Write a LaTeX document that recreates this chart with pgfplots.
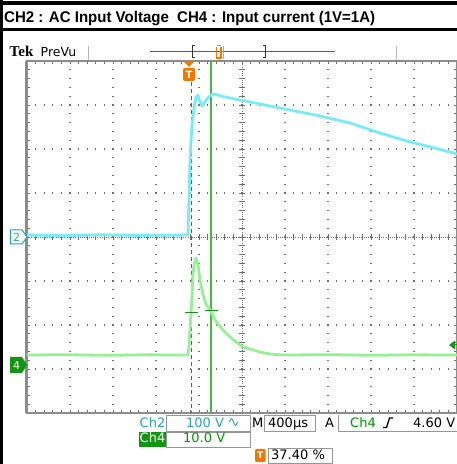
\documentclass[border=0pt]{standalone}
\usepackage{pgfplots}
\pgfplotsset{compat=1.18}
\usepackage{fontspec}
\setmainfont{DejaVu Sans}
\newfontfamily\lib{Liberation Sans}
\newfontfamily\tekserif{Liberation Serif}
\definecolor{cyantrace}{RGB}{120,236,246}
\definecolor{greentrace}{RGB}{150,240,150}
\definecolor{chtwo}{RGB}{40,165,180}
\definecolor{chfour}{RGB}{0,150,0}
\definecolor{chfourbg}{RGB}{16,150,16}
\definecolor{curgreen}{RGB}{70,180,70}
\definecolor{tekorange}{RGB}{240,120,0}
\definecolor{gratgray}{RGB}{110,110,110}
\definecolor{framegray}{RGB}{140,140,140}
\definecolor{boxgray}{RGB}{150,150,150}

\pgfplotstableread{
x y
0.000 4.045
0.800 4.030
1.698 4.050
2.600 4.035
3.744 4.045
3.767 4.841
3.791 5.750
3.814 6.205
3.837 6.545
3.884 6.932
3.930 7.182
3.977 7.227
4.023 7.068
4.070 6.977
4.116 7.045
4.186 7.136
4.256 7.205
4.326 7.250
4.442 7.227
4.605 7.182
4.837 7.136
5.070 7.091
5.419 7.023
5.884 6.932
6.349 6.841
6.814 6.750
7.512 6.591
8.209 6.364
8.907 6.159
9.488 6.023
10.000 5.886
}\chtwodata

\pgfplotstableread{
x y
0.000 1.318
0.900 1.325
1.800 1.310
2.700 1.322
3.744 1.318
3.767 1.545
3.791 1.886
3.814 2.295
3.837 2.636
3.860 3.136
3.884 3.364
3.930 3.523
3.977 3.364
4.023 3.023
4.093 2.682
4.163 2.477
4.256 2.341
4.326 2.205
4.419 2.045
4.558 1.886
4.721 1.727
4.860 1.614
5.023 1.500
5.186 1.455
5.419 1.386
5.651 1.341
5.953 1.318
7.000 1.325
8.000 1.312
9.000 1.322
10.000 1.318
}\chfourdata

\begin{document}
\begin{tikzpicture}
\fill[white] (0,0) rectangle (457pt,464pt);
\useasboundingbox (0,0) rectangle (457pt,464pt);

% graticule
\begin{scope}[shift={(27pt,51pt)},x=43pt,y=44pt]
  \foreach \i in {1,2,3,4,6,7,8,9}
    \draw[gratgray, line width=1.1pt, dash pattern=on 1.1pt off 7.7pt, dash phase=0.55pt] (\i,0)--(\i,8);
  \foreach \j in {1,2,3,5,6,7}
    \draw[gratgray, line width=1.1pt, dash pattern=on 1.1pt off 7.5pt, dash phase=0.55pt] (0,\j)--(10,\j);
  \draw[gratgray, line width=0.9pt, dash pattern=on 1pt off 1.2pt] (5,0)--(5,8);
  \draw[gratgray, line width=0.9pt, dash pattern=on 1pt off 1.2pt] (0,4)--(10,4);
  \foreach \k in {1,...,39}
    \draw[gratgray, line width=0.8pt] ([xshift=-3pt]5,\k/5)--([xshift=3pt]5,\k/5);
  \foreach \k in {1,...,49}
    \draw[gratgray, line width=0.8pt] ([yshift=-3pt]\k/5,4)--([yshift=3pt]\k/5,4);
  \foreach \k in {1,...,49} {
    \draw[gratgray, line width=0.8pt] (\k/5,0)--++(0,3pt);
    \draw[gratgray, line width=0.8pt] (\k/5,8)--++(0,-3pt);
  }
  \foreach \k in {1,...,39} {
    \draw[gratgray, line width=0.8pt] (0,\k/5)--++(3pt,0);
    \draw[gratgray, line width=0.8pt] (10,\k/5)--++(-3pt,0);
  }
  \draw[framegray, line width=1.5pt] (0,0) rectangle (10,8);
  \draw[framegray, line width=2.8pt] ([xshift=-0.6pt]0,0)--([xshift=-0.6pt]0,8);
\end{scope}

% cursor lines (behind traces)
\begin{scope}[x=1pt,y=-1pt,yshift=464pt]
  \draw[chfourbg, line width=1pt, dash pattern=on 4pt off 3pt] (191,82)--(191,413);
  \draw[curgreen, line width=1.1pt] (211,61)--(211,413);
\end{scope}

\begin{axis}[at={(27pt,51pt)}, anchor=south west, scale only axis,
  width=430pt, height=352pt, xmin=0, xmax=10, ymin=0, ymax=8, hide axis]
  \addplot[cyantrace, line width=2.8pt, line join=round] table[x=x,y=y] {\chtwodata};
  \addplot[greentrace, line width=2.8pt, line join=round] table[x=x,y=y] {\chfourdata};
\end{axis}

\begin{scope}[x=1pt,y=-1pt,yshift=464pt]
  % borders
  \fill[black] (0,1.5) rectangle (457,5);
  \fill[black] (0,28.5) rectangle (457,31.5);
  \fill[black] (0,0) rectangle (2.5,464);
  % title
  \node[anchor=base west, inner sep=0pt] at (4,22.5)
    {\resizebox{371pt}{\height}{\lib\bfseries\fontsize{15.5}{15.5}\selectfont CH2 : AC Input Voltage\ \ CH4 : Input current (1V=1A)}};
  % top status line
  \node[anchor=base west, inner sep=0pt] at (9.5,57) {\tekserif\bfseries\fontsize{15}{15}\selectfont Tek};
  \node[anchor=base west, inner sep=0pt] at (40.5,56.5) {\fontsize{12.5}{12.5}\selectfont PreVu};
  \draw[boxgray!70, line width=1pt] (88,46)--(88,60);
  \draw[boxgray!70, line width=1pt] (396,46)--(396,60);
  \draw[chfourbg, line width=1pt] (150,52)--(335,52);
  \draw[black!80, line width=1pt] (194.5,46)--(192,46)--(192,58)--(194.5,58);
  \draw[black!80, line width=1pt] (262.5,46)--(265,46)--(265,58)--(262.5,58);
  \draw[tekorange, line width=1.2pt] (216.5,47)--(216.5,58)--(221,58)--(221,47);
  \draw[tekorange, line width=1pt] (217,45.5)--(220.5,45.5);
  \draw[curgreen!70, line width=1.3pt] (223.5,46)--(223.5,59);
  % trigger position marker
  \fill[tekorange] (184,62)--(194,62)--(189,67)--cycle;
  \fill[tekorange, rounded corners=1.5pt] (183,68) rectangle (195,81);
  \node[white, font=\bfseries\fontsize{10}{10}\selectfont, inner sep=0pt] at (189,74.5) {T};
  % cursor crosses
  \draw[chfourbg, line width=1pt] (185,313)--(198,313);
  \draw[chfourbg, line width=1pt] (205,311)--(218,311);
  % channel markers
  \filldraw[fill=white, draw=chtwo, line width=1pt] (10.5,230)--(22,230)--(27,237)--(22,244)--(10.5,244)--cycle;
  \node[chtwo, font=\fontsize{11}{11}\selectfont, inner sep=0pt] at (16.5,237) {2};
  \fill[chfourbg] (10,357)--(22,357)--(27,365)--(22,373)--(10,373)--cycle;
  \node[white, font=\fontsize{11}{11}\selectfont, inner sep=0pt] at (16.5,365) {4};
  % trigger level marker
  \fill[chfourbg] (449,345)--(455,340.5)--(455,349.5)--cycle;
  \draw[chfourbg, line width=1pt] (454,345)--(457,345);
  % readout boxes
  \draw[boxgray, line width=0.8pt] (166,415) rectangle (250,431);
  \draw[boxgray, line width=0.8pt] (264,415) rectangle (315,431);
  \draw[boxgray, line width=0.8pt] (338,415) -- (338,431) -- (457,431);
  \draw[boxgray, line width=0.8pt] (166,432) rectangle (250,447);
  \draw[boxgray, line width=0.8pt] (268,448) rectangle (332,463);
  \fill[chfourbg] (139,432) rectangle (166,447);
  % readout texts
  \node[anchor=base west, inner sep=0pt, chtwo] at (139.5,427.3) {\fontsize{13}{13}\selectfont Ch2};
  \node[anchor=base west, inner sep=0pt, chtwo] at (186,427.3) {\fontsize{13}{13}\selectfont 100 V};
  \draw[chtwo, line width=1pt] (229.5,422) sin (231.5,418.5) cos (233.5,422) sin (235.5,425.5) cos (237.5,422);
  \node[anchor=base west, inner sep=0pt] at (252,427.3) {\fontsize{13}{13}\selectfont M};
  \node[anchor=base west, inner sep=0pt] at (268,427.3) {\fontsize{13}{13}\selectfont 400µs};
  \node[anchor=base west, inner sep=0pt] at (325,427.3) {\fontsize{13}{13}\selectfont A};
  \node[anchor=base west, inner sep=0pt, chfour] at (350,427.3) {\fontsize{13}{13}\selectfont Ch4};
  \draw[black, line width=1.3pt] (383,427.5)--(386.5,427.5)--(389.5,418)--(393,418);
  \node[anchor=base west, inner sep=0pt] at (413,427.3) {\fontsize{13}{13}\selectfont 4.60 V};
  \node[anchor=base west, inner sep=0pt, white] at (139.5,443) {\fontsize{13}{13}\selectfont Ch4};
  \node[anchor=base west, inner sep=0pt, chfour] at (183,443) {\fontsize{13}{13}\selectfont 10.0 V};
  \fill[tekorange, rounded corners=1.2pt] (255,449) rectangle (265.5,462);
  \node[white, font=\bfseries\fontsize{9}{9}\selectfont, inner sep=0pt] at (260.25,455.5) {T};
  \node[anchor=base west, inner sep=0pt] at (271,460) {\fontsize{13}{13}\selectfont 37.40 \%};
\end{scope}
\end{tikzpicture}
\end{document}
